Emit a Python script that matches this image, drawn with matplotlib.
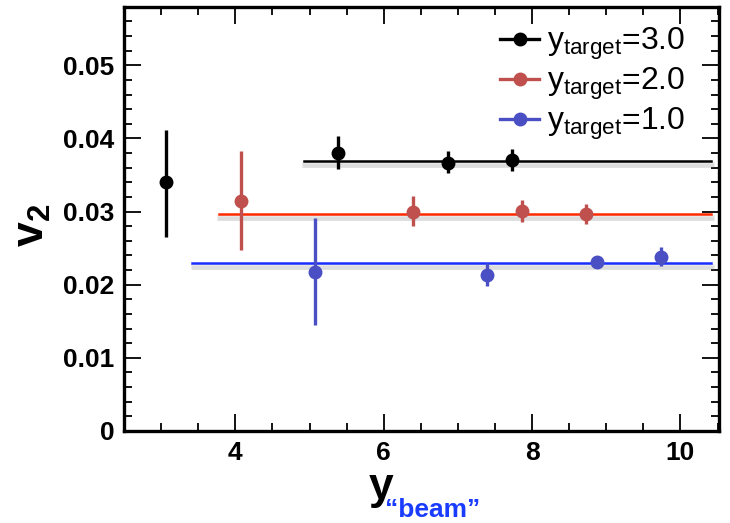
import matplotlib
matplotlib.use("Agg")
import matplotlib.pyplot as plt
import matplotlib.patheffects as pe
from matplotlib.ticker import MultipleLocator

plt.rcParams['font.family'] = ['Liberation Sans', 'DejaVu Sans']
plt.rcParams['mathtext.fontset'] = 'custom'
plt.rcParams['mathtext.rm'] = 'Liberation Sans'
plt.rcParams['mathtext.it'] = 'Liberation Sans'

# ---- data ----
labels = ["3.0", "2.0", "1.0"]
x_black = [3.06, 5.39, 6.86, 7.73]
y_black = [0.0340, 0.0380, 0.0367, 0.0370]
lo_black = [0.0265, 0.0358, 0.0353, 0.0355]
hi_black = [0.0412, 0.0404, 0.0383, 0.0386]

x_red = [4.07, 6.40, 7.86, 8.73]
y_red = [0.0315, 0.0299, 0.0301, 0.0296]
lo_red = [0.0248, 0.0280, 0.0286, 0.0283]
hi_red = [0.0383, 0.0321, 0.0316, 0.0310]

x_blue = [5.07, 7.39, 8.87, 9.74]
y_blue = [0.0218, 0.0213, 0.0231, 0.0238]
lo_blue = [0.0145, 0.0198, 0.0226, 0.0226]
hi_blue = [0.0291, 0.0229, 0.0237, 0.0252]

fit_levels = [0.0369, 0.0296, 0.0229]
fit_start = [4.92, 3.78, 3.42]
fit_end = [10.41, 10.41, 10.41]

marker_colors = ["black", "#c0504d", "#4a4fc4"]
line_colors = ["black", "#ff2a00", "#1a2dff"]

fig = plt.figure(figsize=(7.30, 5.23), dpi=100)
ax = fig.add_axes([0.170, 0.176, 0.815, 0.811])

series = [(x_black, y_black, lo_black, hi_black),
          (x_red, y_red, lo_red, hi_red),
          (x_blue, y_blue, lo_blue, hi_blue)]

shadow = [pe.SimpleLineShadow(offset=(1.0, -2.5), shadow_color='gray', alpha=0.18, linewidth=4),
          pe.SimpleLineShadow(offset=(1.0, -3.5), shadow_color='gray', alpha=0.10, linewidth=3),
          pe.Normal()]
for i in range(3):
    ax.plot([fit_start[i], fit_end[i]], [fit_levels[i]] * 2, color=line_colors[i],
            lw=1.8, zorder=2, path_effects=shadow)

for i, (xs, ys, los, his) in enumerate(series):
    yerr = [[y - l for y, l in zip(ys, los)], [h - y for y, h in zip(ys, his)]]
    ax.errorbar(xs, ys, yerr=yerr, fmt='o', color=marker_colors[i], ms=9,
                elinewidth=2.4, capsize=0, zorder=3)

leg_handles = []
for i in range(3):
    ln, = ax.plot([], [], '-o', color=marker_colors[i], ms=9, lw=2.4)
    leg_handles.append(ln)
ax.legend(leg_handles, [r'$\mathregular{y_{target}}$=' + l for l in labels],
          loc='upper right', bbox_to_anchor=(0.975, 1.0), frameon=False,
          fontsize=23, handlelength=1.2, handletextpad=0.25, labelspacing=0.12,
          borderaxespad=0.2)

ax.set_xlim(2.5, 10.52)
ax.set_ylim(0, 0.058)
ax.xaxis.set_minor_locator(MultipleLocator(0.5))
ax.yaxis.set_minor_locator(MultipleLocator(0.002))
ax.set_yticks([0, 0.01, 0.02, 0.03, 0.04, 0.05])
ax.set_yticklabels(['0', '0.01', '0.02', '0.03', '0.04', '0.05'])
ax.set_xticks([4, 6, 8, 10])
ax.set_xticklabels(['4', '6', '8', '10'])
ax.tick_params(which='both', direction='in', top=True, right=True, width=1.3)
ax.tick_params(which='major', length=12, labelsize=19, pad=7)
ax.tick_params(which='minor', length=6)
for lab in ax.get_xticklabels() + ax.get_yticklabels():
    lab.set_fontweight('bold')
for sp in ax.spines.values():
    sp.set_linewidth(2.4)

fig.text(0.045, 0.57, r'v$_\mathregular{2}$', rotation=90, fontsize=32, fontweight='bold',
         ha='center', va='center')
fig.text(0.522, 0.068, 'y', fontsize=32, fontweight='bold', ha='center', va='center')
fig.text(0.592, 0.024, '\u201cbeam\u201d', fontsize=19, fontweight='bold', color='#1a3cff',
         ha='center', va='center')

fig.savefig("out.png", dpi=100)
